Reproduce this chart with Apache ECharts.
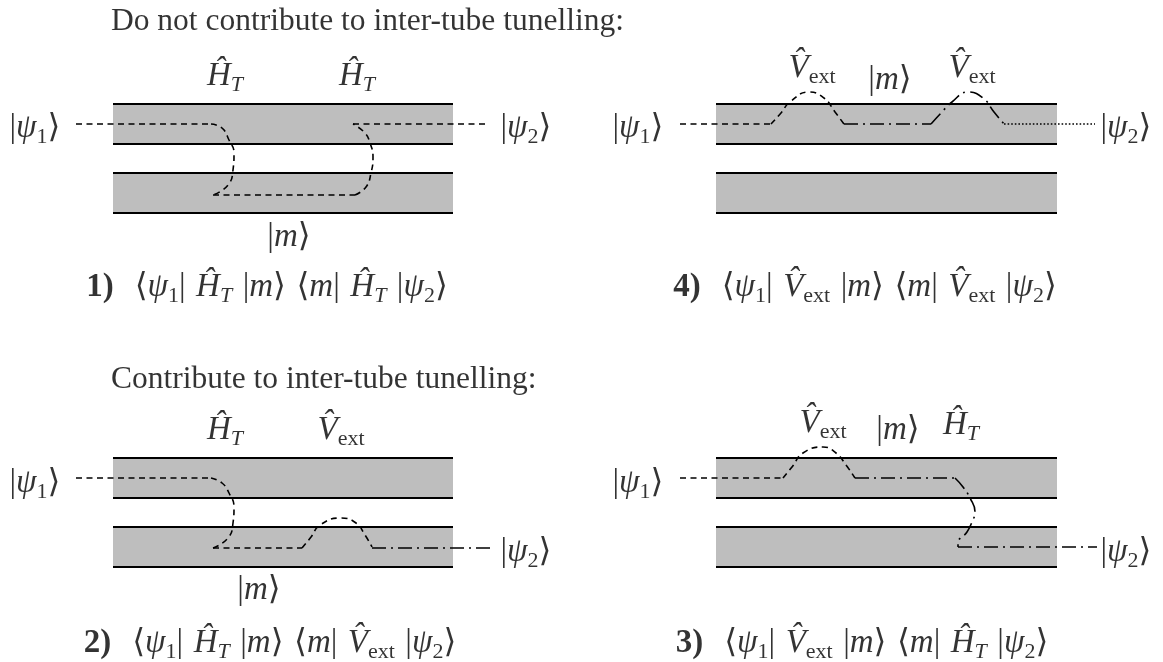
<!DOCTYPE html>
<html>
<head>
<meta charset="utf-8">
<script src="https://cdn.jsdelivr.net/npm/echarts@6/dist/echarts.min.js"></script>
<style>html,body{margin:0;padding:0;background:#fff;}#c{width:1163px;height:662px;}</style>
</head>
<body>
<div id="c"></div>
<script>
// Tubes: [xStart, xEnd, yTop, yBottom]
const tubes = [
  [113, 453, 104, 144], [113, 453, 173, 213],
  [716, 1057, 104, 144], [716, 1057, 173, 213],
  [113, 453, 458, 498], [113, 453, 527, 567],
  [716, 1057, 458, 498], [716, 1057, 527, 567]
];

// Path segments: [style, smooth, points]
const p1Segments = [
  ['dashed', false, [[76,124],[211,124]]],
  ['dashed', true,  [[211,124],[222,128],[229,140],[234,153],[233,170],[228,185],[213,195]]],
  ['dashed', false, [[213,195],[355,195]]],
  ['dashed', true,  [[355,195],[366,187],[371,173],[373,157],[370,143],[365,133],[353,124]]],
  ['dashed', false, [[353,124],[489,124]]]
];
const p4Segments = [
  ['dashed', false, [[680,124],[771,124]]],
  ['dashed', true,  [[771,124],[781,113],[790,102],[809,92],[824,98],[835,112],[844,124]]],
  ['dashdot', false, [[844,124],[931,124]]],
  ['dashdot', true, [[931,124],[941,113],[952,102],[968,92],[983,98],[994,112],[1004,124]]],
  ['dotted', false, [[1004,124],[1095,124]]]
];
const p2Segments = [
  ['dashed', false, [[76,478],[211,478]]],
  ['dashed', true,  [[211,478],[222,483],[229,493],[234,507],[233,523],[228,538],[213,548]]],
  ['dashed', false, [[213,548],[302,548]]],
  ['dashed', true,  [[302,548],[311,537],[320,525],[341,518],[356,523],[365,535],[372,547]]],
  ['dashdot', false, [[372,548],[493,548]]]
];
const p3Segments = [
  ['dashed', false, [[680,478],[783,478]]],
  ['dashed', true,  [[783,478],[792,467],[803,453],[823,447],[836,453],[846,465],[855,478]]],
  ['dashdot', false, [[855,478],[955,478]]],
  ['dashdot', true, [[955,478],[963,487],[970,498],[975,512],[972,522],[967,532],[958,543],[958,547]]],
  ['dashdot', false, [[958,547],[1097,547]]]
];

// Text pieces
const G = '{g| }';
const KET1 = '{r||}{i|ψ}{s|1}{r|⟩}';
const KET2 = '{r||}{i|ψ}{s|2}{r|⟩}';
const HT = '{i|Ĥ}{si|T}';
const VX = '{i|V̂}{s|ext}';
const KETM = '{r||}{i|m}{r|⟩}';
function formula(num, op1, op2) {
  return '{b|' + num + ')}' + G + G + '{r|⟨}{i|ψ}{s|1}{r||}' + G + op1 + G + '{r||}{i|m}{r|⟩}' + G +
    '{r|⟨}{i|m}{r||}' + G + op2 + G + '{r||}{i|ψ}{s|2}{r|⟩}';
}
const F1 = formula('1', HT, HT);
const F4 = formula('4', VX, VX);
const F2 = formula('2', HT, VX);
const F3 = formula('3', VX, HT);

// Labels: [x, y, text, align]
const labels = [
  [111, 22, '{t|Do not contribute to inter-tube tunelling:}', 'left'],
  [35, 128, KET1, 'center'], [526, 128, KET2, 'center'],
  [225, 76, HT, 'center'], [357, 76, HT, 'center'],
  [289, 237, KETM, 'center'],
  [267, 287, F1, 'center'],
  [638, 128, KET1, 'center'], [1126, 128, KET2, 'center'],
  [812, 68, VX, 'center'], [972, 68, VX, 'center'],
  [890, 80, KETM, 'center'],
  [865, 287, F4, 'center'],
  [111, 380, '{t|Contribute to inter-tube tunelling:}', 'left'],
  [225, 430, HT, 'center'], [341, 430, VX, 'center'],
  [35, 483, KET1, 'center'], [526, 552, KET2, 'center'],
  [259, 590, KETM, 'center'],
  [270, 643, F2, 'center'],
  [638, 483, KET1, 'center'], [1126, 552, KET2, 'center'],
  [823, 423, VX, 'center'], [898, 430, KETM, 'center'], [961, 425, HT, 'center'],
  [862, 643, F3, 'center']
];

const SERIF = "'Liberation Serif','DejaVu Serif','DejaVu Sans',serif";
const dashTypes = { dashed: [6, 4.5], dashdot: [14, 5, 2, 5], dotted: [1.6, 2] };

const pathSeries = [];
[p1Segments, p4Segments, p2Segments, p3Segments].forEach(function (segs) {
  segs.forEach(function (seg) {
    pathSeries.push({
      type: 'line',
      data: seg[2],
      smooth: seg[1] ? 0.5 : false,
      showSymbol: false,
      symbol: 'none',
      silent: true,
      z: 5,
      lineStyle: { color: '#000', width: 1.6, type: dashTypes[seg[0]], cap: 'butt' }
    });
  });
});

const rich = {
  t: { fontFamily: SERIF, fontSize: 31.5, color: '#000', lineHeight: 40 },
  i: { fontFamily: SERIF, fontSize: 33, fontStyle: 'italic', color: '#000', lineHeight: 40 },
  r: { fontFamily: SERIF, fontSize: 33, color: '#000', lineHeight: 40 },
  b: { fontFamily: SERIF, fontSize: 33, fontWeight: 'bold', color: '#000', lineHeight: 40 },
  g: { fontFamily: SERIF, fontSize: 33, color: '#000', lineHeight: 40, width: 10.5 },
  s: { fontFamily: SERIF, fontSize: 22, color: '#000', lineHeight: 18, verticalAlign: 'bottom' },
  si: { fontFamily: SERIF, fontSize: 22, fontStyle: 'italic', color: '#000', lineHeight: 18, verticalAlign: 'bottom' }
};

const chart = echarts.init(document.getElementById('c'), null, { renderer: 'canvas' });
chart.setOption({
  animation: false,
  backgroundColor: '#fff',
  grid: { left: 0, right: 0, top: 0, bottom: 0 },
  xAxis: { type: 'value', min: 0, max: 1163, show: false },
  yAxis: { type: 'value', min: 0, max: 662, inverse: true, show: false },
  series: [
    {
      type: 'custom',
      data: tubes,
      silent: true,
      z: 1,
      renderItem: function (params, api) {
        const a = api.coord([api.value(0), api.value(2)]);
        const b = api.coord([api.value(1), api.value(3)]);
        return {
          type: 'group',
          children: [
            { type: 'rect', shape: { x: a[0], y: a[1], width: b[0] - a[0], height: b[1] - a[1] }, style: { fill: '#bebebe' } },
            { type: 'line', shape: { x1: a[0], y1: a[1], x2: b[0], y2: a[1] }, style: { stroke: '#000', lineWidth: 2 } },
            { type: 'line', shape: { x1: a[0], y1: b[1], x2: b[0], y2: b[1] }, style: { stroke: '#000', lineWidth: 2 } }
          ]
        };
      }
    }
  ].concat(pathSeries).concat([
    {
      type: 'scatter',
      symbolSize: 0,
      silent: true,
      z: 10,
      data: labels.map(function (l) {
        return { value: [l[0], l[1]], name: l[2], label: { align: l[3] } };
      }),
      label: {
        show: true,
        position: 'inside',
        verticalAlign: 'middle',
        formatter: function (p) { return p.name; },
        fontFamily: SERIF,
        fontSize: 33,
        color: '#000',
        lineHeight: 40,
        rich: rich
      }
    }
  ])
});
</script>
</body>
</html>
